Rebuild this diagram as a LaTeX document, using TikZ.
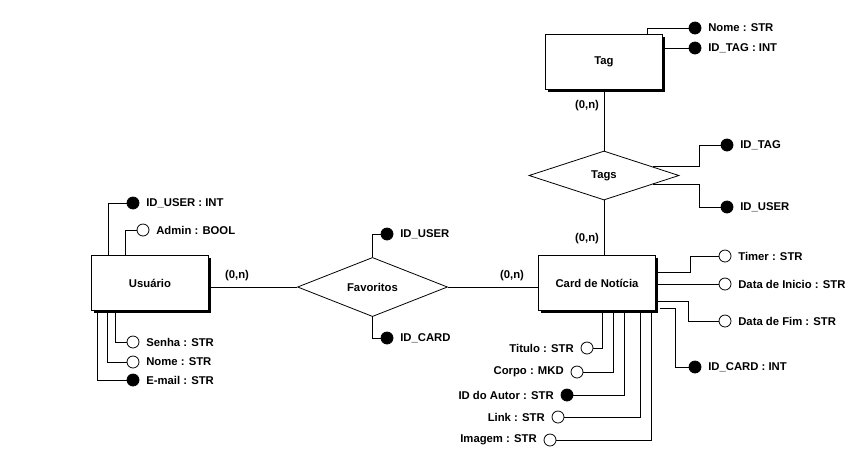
\documentclass[tikz,border=0pt]{standalone}
\usepackage{fontspec}
\setmainfont{Liberation Sans}
\usetikzlibrary{shapes.geometric,shadows,calc}

\begin{document}
\begin{tikzpicture}[x=1pt,y=-1pt,line width=0.8pt,
  font=\bfseries\fontsize{11.3}{13}\selectfont,
  entity/.style={draw,fill=white,minimum width=117pt,minimum height=55pt,inner sep=0pt,
    drop shadow={shadow xshift=2pt,shadow yshift=-2pt,fill=black,opacity=1}},
  relation/.style={diamond,draw,fill=white,minimum width=150pt,minimum height=49pt,inner sep=0pt},
  attr/.style={circle,draw,fill=white,minimum size=12pt,inner sep=0pt},
  keyattr/.style={attr,fill=black},
  cardin/.style={inner sep=1pt},
  every label/.style={inner sep=6.5pt}]

\fill[white] (0,0) rectangle (853,451);
\useasboundingbox (0,0) rectangle (853,451);

% Entities and relationships.
\node[entity] (tag) at (604,62) {Tag};
\node[entity] (usuario) at (150,283) {Usuário};
\node[entity] (card) at (597,283) {Card de Notícia};
\node[relation] (tags) at (604,175.5) {Tags};
\node[relation] (fav) at (372.5,287) {Favoritos};

\draw (tag) -- (tags);
\draw (tags.south) -- (tags.south |- card.north);
\draw (fav.west) -- (fav.west -| usuario.east);
\draw (fav.east) -- (fav.east -| card.west);

\node[cardin] (tagcardin) at (587,106) {(0,n)};
\node[cardin] (cardtop) at (587,239) {(0,n)};
\node[cardin] (usrcardin) at (237,276) {(0,n)};
\node[cardin] (cardleft) at (512,276) {(0,n)};

% Tag attributes.
\node[keyattr,label=right:{Nome : STR}] (tnome) at (695,28) {};
\node[keyattr,label=right:{ID\_TAG : INT}] (tidtag) at (695,48) {};
\draw ([xshift=43pt]tag.north) |- (tnome);
\draw (tag.east |- tidtag) -- (tidtag);

% Tags attributes.
\node[keyattr,label=right:ID\_TAG] (sidtag) at (727,145) {};
\node[keyattr,label=right:ID\_USER] (siduser) at (727,207) {};
\draw ($(tags.east)!0.35!(tags.north)$) -- ++(46,0) |- (sidtag);
\draw ($(tags.east)!0.35!(tags.south)$) -- ++(46,0) |- (siduser);

% Favoritos attributes.
\node[keyattr,label=right:ID\_USER] (fiduser) at (387,234) {};
\node[keyattr,label=right:ID\_CARD] (fidcard) at (387,338) {};
\draw (fav.north) |- (fiduser);
\draw (fav.south) |- (fidcard);

% Usuario attributes.
\node[keyattr,label=right:{ID\_USER : INT}] (uid) at (133,203) {};
\node[attr,label=right:{Admin : BOOL}] (uadmin) at (143,230) {};
\node[attr,label=right:{Senha : STR}] (usenha) at (133,342) {};
\node[attr,label=right:{Nome : STR}] (unome) at (133,362) {};
\node[keyattr,label=right:{E-mail : STR}] (uemail) at (133,380) {};
\draw ([xshift=-42pt]usuario.north) |- (uid);
\draw ([xshift=-25pt]usuario.north) |- (uadmin);
\draw ([xshift=-35pt]usuario.south) |- (usenha);
\draw ([xshift=-43pt]usuario.south) |- (unome);
\draw ([xshift=-53pt]usuario.south) |- (uemail);

% Card attributes, right side.
\node[attr,label=right:{Timer : STR}] (ctimer) at (725,256) {};
\node[attr,label=right:{Data de Inicio : STR}] (cinicio) at (725,284) {};
\node[attr,label=right:{Data de Fim : STR}] (cfim) at (725,321) {};
\node[keyattr,label=right:{ID\_CARD : INT}] (cidcard) at (695,367) {};
\draw ([yshift=11pt]card.east) -- ++(34,0) |- (ctimer);
\draw (card.east |- cinicio) -- (cinicio);
\draw ([yshift=-18pt]card.east) -- ++(32,0) |- (cfim);
\draw ([xshift=4pt,yshift=3pt]card.south east) -- ++(15,0) |- (cidcard);

% Card attributes, below.
\foreach \dx/\x/\y/\nm/\fc/\txt in {5/587/348/titulo/white/{Titulo : STR},
    16/577/372/corpo/white/{Corpo : MKD},
    27/567/395/autor/black/{ID do Autor : STR},
    43/558/417/link/white/{Link : STR},
    54/550/440/imagem/white/{Imagem : STR}}{
  \node[attr,fill=\fc,label=left:{\txt}] (c\nm) at (\x,\y) {};
  \draw ([xshift=\dx pt]card.south) |- (c\nm);
}
\end{tikzpicture}
\end{document}
